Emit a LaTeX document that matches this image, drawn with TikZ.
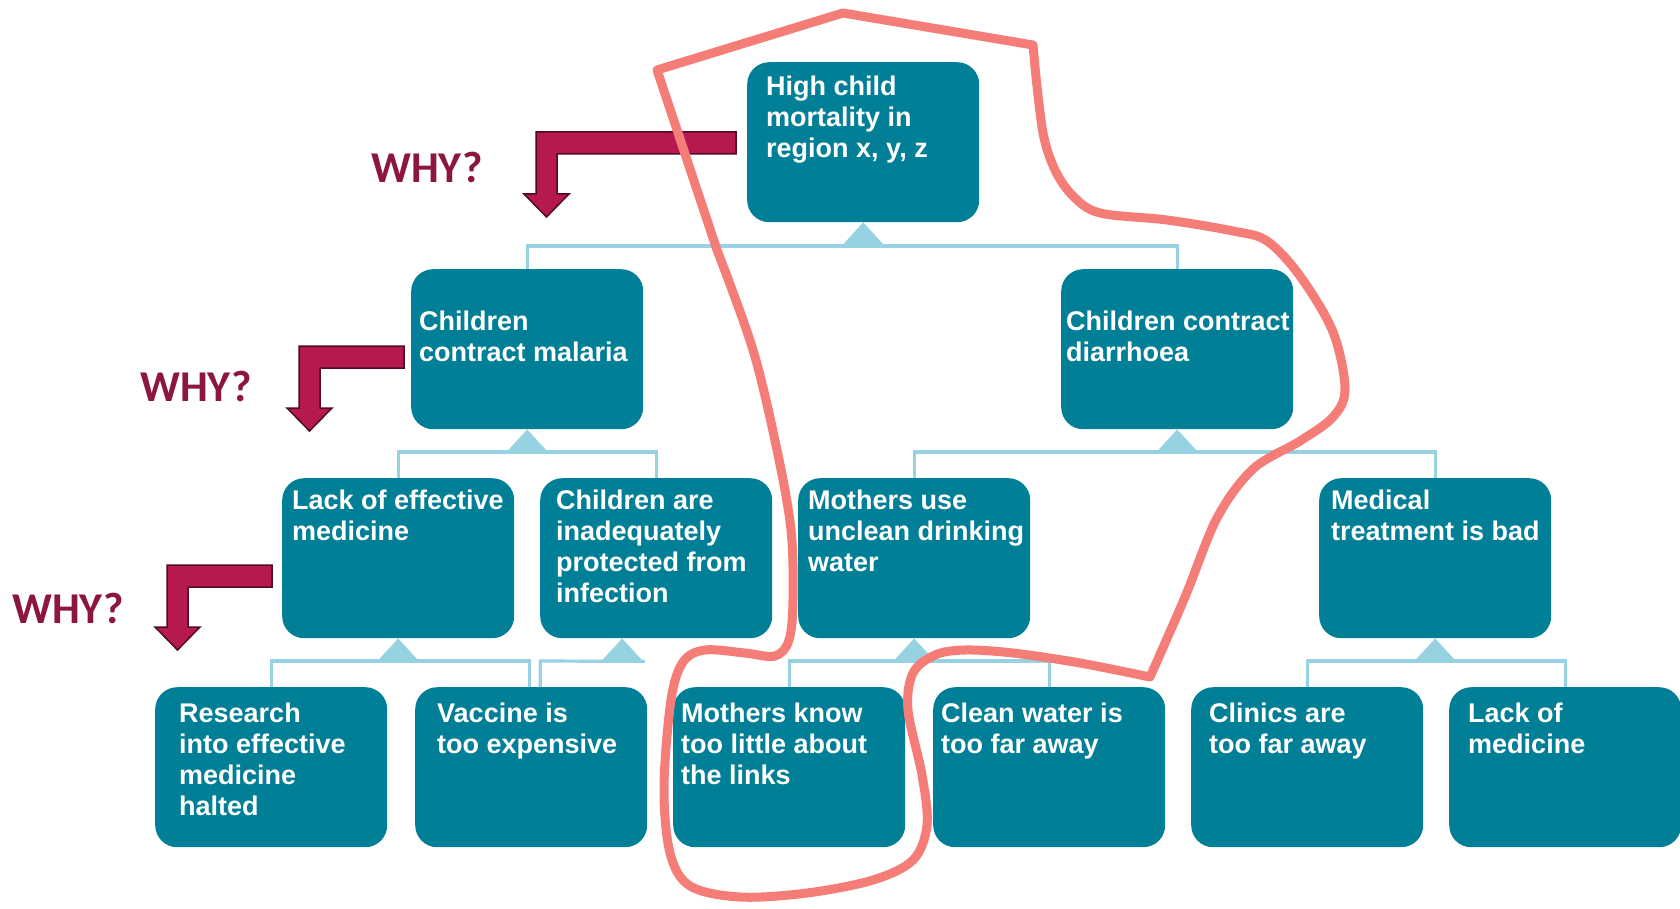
\documentclass[tikz,border=0pt]{standalone}
\usepackage{fontspec}
\setmainfont{Liberation Sans}
\newfontfamily\whyfont{Carlito}
\usetikzlibrary{calc}
\definecolor{boxteal}{RGB}{1,127,150}
\definecolor{linkblue}{RGB}{150,210,226}
\definecolor{whytext}{RGB}{140,22,62}
\definecolor{arrowfill}{RGB}{182,24,80}
\definecolor{arrowedge}{RGB}{80,10,35}
\definecolor{loopred}{RGB}{245,125,120}
\begin{document}
\begin{tikzpicture}[x=1pt,y=-1pt,
  causebox/.style={anchor=north west, rounded corners=22pt, fill=boxteal,
    minimum width=232pt, minimum height=160pt, inner sep=0pt},
  % every first line gets a fixed 21pt height, so the node's top edge
  % sits exactly 21pt above the first baseline
  boxtext/.style={anchor=north west, inner sep=0pt, text=white, align=left,
    font=\fontsize{27}{31}\selectfont\bfseries,
    execute at begin node={\rule{0pt}{21pt}}},
  linkline/.style={draw=linkblue, line width=3.2pt},
  linktri/.style={fill=linkblue},
  why/.style={text=whytext, inner sep=0pt, font=\whyfont\fontsize{44}{50}\selectfont\bfseries},
  whyarrow/.style={fill=arrowfill, draw=arrowedge, line width=1.5pt, line join=miter},
  redloop/.style={draw=loopred, line width=9pt, line join=round, line cap=round}]

\useasboundingbox (0,0) rectangle (1680,909);

% ---- cause boxes ----
\node[causebox] (top) at (747,62) {};
\node[causebox] (mal) at (411,269) {};
\node[causebox] (dia) at (1061,269) {};
\node[causebox] (lack) at (282,478) {};
\node[causebox] (chi) at (540,478) {};
\node[causebox] (mu) at (798,478) {};
\node[causebox] (med) at (1319,478) {};
\node[causebox] (res) at (155,687) {};
\node[causebox] (vac) at (415,687) {};
\node[causebox] (mk) at (673,687) {};
\node[causebox] (cw) at (933,687) {};
\node[causebox] (cl) at (1191,687) {};
\node[causebox] (lm) at (1449,687) {};

% ---- tree links ----
\fill[linktri] (top.south) -- ++(-21.5,23.5) -- ++(43,0) -- cycle;
\draw[linkline] (mal.north) -- ++(0,-23) -| (dia.north);

\fill[linktri] (mal.south) -- ++(-21.5,23.5) -- ++(43,0) -- cycle;
\draw[linkline] (lack.north) -- ++(0,-26) -| (chi.north);

\fill[linktri] (dia.south) -- ++(-21.5,23.5) -- ++(43,0) -- cycle;
\draw[linkline] (mu.north) -- ++(0,-26) -| (med.north);

\fill[linktri] (lack.south) -- ++(-21.5,23.5) -- ++(43,0) -- cycle;
\draw[linkline] (res.north) -- ++(0,-26) -| ($(vac.north)+(-2,0)$);

\fill[linktri] ($(chi.south)+(-34,0)$) -- ++(-21.5,23.5) -- ++(43,0) -- cycle;
\draw[linkline] ($(vac.north)+(9,0)$) -- ++(0,-26) -- ($(chi.south)+(-11,23)$);

\fill[linktri] (mu.south) -- ++(-21.5,23.5) -- ++(43,0) -- cycle;
\draw[linkline] (mk.north) -- ++(0,-26) -| (cw.north);

\fill[linktri] (med.south) -- ++(-21.5,23.5) -- ++(43,0) -- cycle;
\draw[linkline] (cl.north) -- ++(0,-26) -| (lm.north);

% ---- box texts (offset = inset, first baseline - 21) ----
\node[boxtext] (top-t) at ($(top.north west)+(19,14)$) {High child\\mortality in\\region x, y, z};
\node[boxtext] (mal-t) at ($(mal.north west)+(8,42)$) {Children\\contract malaria};
\node[boxtext] (dia-t) at ($(dia.north west)+(5,42)$) {Children contract\\diarrhoea};
\node[boxtext] (lack-t) at ($(lack.north west)+(10,12)$) {Lack of effective\\medicine};
\node[boxtext] (chi-t) at ($(chi.north west)+(16,12)$) {Children are\\inadequately\\protected from\\infection};
\node[boxtext] (mu-t) at ($(mu.north west)+(10,12)$) {Mothers use\\unclean drinking\\water};
\node[boxtext] (med-t) at ($(med.north west)+(12,12)$) {Medical\\treatment is bad};
\node[boxtext] (res-t) at ($(res.north west)+(24,16)$) {Research\\into effective\\medicine\\halted};
\node[boxtext] (vac-t) at ($(vac.north west)+(22,16)$) {Vaccine is\\too expensive};
\node[boxtext] (mk-t) at ($(mk.north west)+(8,16)$) {Mothers know\\too little about\\the links};
\node[boxtext] (cw-t) at ($(cw.north west)+(8,16)$) {Clean water is\\too far away};
\node[boxtext] (cl-t) at ($(cl.north west)+(18,16)$) {Clinics are\\too far away};
\node[boxtext] (lm-t) at ($(lm.north west)+(19,16)$) {Lack of\\medicine};

% ---- WHY? arrows ----
\draw[whyarrow] (736,132) -- (536,132) -- (536,194) -- (524,194) -- (546.5,217)
  -- (569,194) -- (557,194) -- (557,154) -- (736,154) -- cycle;
\draw[whyarrow] (404,346) -- (299,346) -- (299,408) -- (287,408) -- (309.5,431)
  -- (332,408) -- (320,408) -- (320,368) -- (404,368) -- cycle;
\draw[whyarrow] (272,565) -- (167,565) -- (167,627) -- (155,627) -- (177.5,650)
  -- (200,627) -- (188,627) -- (188,587) -- (272,587) -- cycle;

\node[why] (why1) at (427,167) {WHY?};
\node[why] (why2) at (196,386) {WHY?};
\node[why] (why3) at (68,608) {WHY?};

% ---- hand-drawn outline ----
\draw[redloop] (1035,67) -- (1033,45) -- (843,13) -- (657,70) -- (717,250)
  -- plot[smooth, tension=0.55] coordinates {(717,250) (753,350) (777,450) (791,530)
     (793,600) (789,640) (775,656) (745,653) (705,650) (683,662) (671,700)
     (664,787) (670,853) (690,886) (740,897) (807,893) (873,880) (913,860)
     (927,825) (922,775) (908,710) (913,673) (935,655) (965,650) (1013,653)
     (1080,663) (1150,677)}
  -- plot[smooth, tension=0.55] coordinates {(1150,677) (1185,597) (1217,518)
     (1253,469) (1300,441) (1333,417) (1345,389) (1333,332) (1300,276)
     (1267,241) (1233,231) (1167,220) (1100,213) (1073,196) (1055,170)
     (1043,133) (1035,67)};
\end{tikzpicture}
\end{document}
